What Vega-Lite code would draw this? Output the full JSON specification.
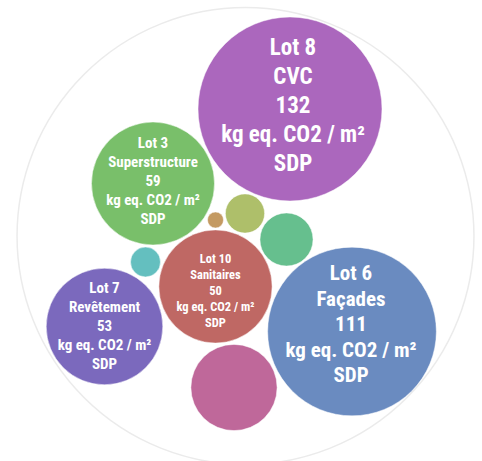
{
  "$schema": "https://vega.github.io/schema/vega-lite/v6.json",
  "width": 482,
  "height": 461,
  "padding": 0,
  "autosize": {"type": "none"},
  "background": "white",
  "config": {"view": {"stroke": null}},
  "datasets": {
    "outer": [{"x": 245.5, "y": 236, "value": 814}],
    "bubbles": [
      {"id": "Lot 8", "x": 290, "y": 109, "value": 132, "label": "Lot 8\nCVC\n132\nkg eq. CO2 / m²\nSDP"},
      {"id": "Lot 6", "x": 352, "y": 331.5, "value": 111, "label": "Lot 6\nFaçades\n111\nkg eq. CO2 / m²\nSDP"},
      {"id": "Lot 3", "x": 153, "y": 183.5, "value": 59, "label": "Lot 3\nSuperstructure\n59\nkg eq. CO2 / m²\nSDP"},
      {"id": "Lot 7", "x": 104.5, "y": 326.5, "value": 53, "label": "Lot 7\nRevêtement\n53\nkg eq. CO2 / m²\nSDP"},
      {"id": "Lot 10", "x": 215.5, "y": 286.5, "value": 50, "label": "Lot 10\nSanitaires\n50\nkg eq. CO2 / m²\nSDP"},
      {"id": "A", "x": 234, "y": 387.5, "value": 29, "label": ""},
      {"id": "B", "x": 286.5, "y": 239.5, "value": 11, "label": ""},
      {"id": "C", "x": 245, "y": 213.5, "value": 6, "label": ""},
      {"id": "D", "x": 145.5, "y": 262, "value": 3.5, "label": ""},
      {"id": "E", "x": 215.5, "y": 220, "value": 1, "label": ""}
    ]
  },
  "encoding": {
    "x": {"field": "x", "type": "quantitative", "scale": {"domain": [0, 482], "nice": false, "zero": false}, "axis": null},
    "y": {"field": "y", "type": "quantitative", "scale": {"domain": [0, 461], "nice": false, "zero": false, "reverse": true}, "axis": null}
  },
  "layer": [
    {
      "data": {"name": "outer"},
      "mark": {"type": "point", "shape": "circle", "filled": true, "fill": "white", "stroke": "#ebebeb", "strokeWidth": 1.5, "opacity": 1},
      "encoding": {
        "size": {"field": "value", "type": "quantitative", "scale": {"domain": [0, 132], "range": [0, 33856], "nice": false, "zero": true}, "legend": null}
      }
    },
    {
      "data": {"name": "bubbles"},
      "mark": {"type": "point", "shape": "circle", "filled": true, "opacity": 1, "stroke": "white", "strokeWidth": 0.5},
      "encoding": {
        "size": {"field": "value", "type": "quantitative", "scale": {"domain": [0, 132], "range": [0, 33856], "nice": false, "zero": true}, "legend": null},
        "color": {"field": "id", "type": "nominal", "legend": null,
          "scale": {"domain": ["Lot 8", "Lot 6", "Lot 3", "Lot 7", "Lot 10", "A", "B", "C", "D", "E"],
                    "range": ["#AB67BD", "#6A8BC0", "#79BF6A", "#7B69BD", "#BF6864", "#BF689A", "#66BF8E", "#AEBF6A", "#64BFBF", "#C49A62"]}}
      }
    },
    {
      "data": {"name": "bubbles"},
      "transform": [{"filter": "datum.id === 'Lot 8'"}],
      "mark": {"type": "text", "color": "white", "font": "Liberation Sans Narrow, Roboto Condensed, Arial Narrow, Roboto, sans-serif", "fontWeight": "bold", "fontSize": 23, "lineHeight": 29, "lineBreak": "\n", "baseline": "middle", "align": "center", "dx": 3, "dy": -61},
      "encoding": {"text": {"field": "label"}}
    },
    {
      "data": {"name": "bubbles"},
      "transform": [{"filter": "datum.id === 'Lot 6'"}],
      "mark": {"type": "text", "color": "white", "font": "Liberation Sans Narrow, Roboto Condensed, Arial Narrow, Roboto, sans-serif", "fontWeight": "bold", "fontSize": 21, "lineHeight": 25.5, "lineBreak": "\n", "baseline": "middle", "align": "center", "dx": -1, "dy": -57.5},
      "encoding": {"text": {"field": "label"}}
    },
    {
      "data": {"name": "bubbles"},
      "transform": [{"filter": "datum.id === 'Lot 3'"}],
      "mark": {"type": "text", "color": "white", "font": "Liberation Sans Narrow, Roboto Condensed, Arial Narrow, Roboto, sans-serif", "fontWeight": "bold", "fontSize": 15, "lineHeight": 19, "lineBreak": "\n", "baseline": "middle", "align": "center", "dy": -40.5},
      "encoding": {"text": {"field": "label"}}
    },
    {
      "data": {"name": "bubbles"},
      "transform": [{"filter": "datum.id === 'Lot 7'"}],
      "mark": {"type": "text", "color": "white", "font": "Liberation Sans Narrow, Roboto Condensed, Arial Narrow, Roboto, sans-serif", "fontWeight": "bold", "fontSize": 15, "lineHeight": 19, "lineBreak": "\n", "baseline": "middle", "align": "center", "dy": -38.5},
      "encoding": {"text": {"field": "label"}}
    },
    {
      "data": {"name": "bubbles"},
      "transform": [{"filter": "datum.id === 'Lot 10'"}],
      "mark": {"type": "text", "color": "white", "font": "Liberation Sans Narrow, Roboto Condensed, Arial Narrow, Roboto, sans-serif", "fontWeight": "bold", "fontSize": 12.5, "lineHeight": 16, "lineBreak": "\n", "baseline": "middle", "align": "center", "dy": -27.5},
      "encoding": {"text": {"field": "label"}}
    }
  ]
}
